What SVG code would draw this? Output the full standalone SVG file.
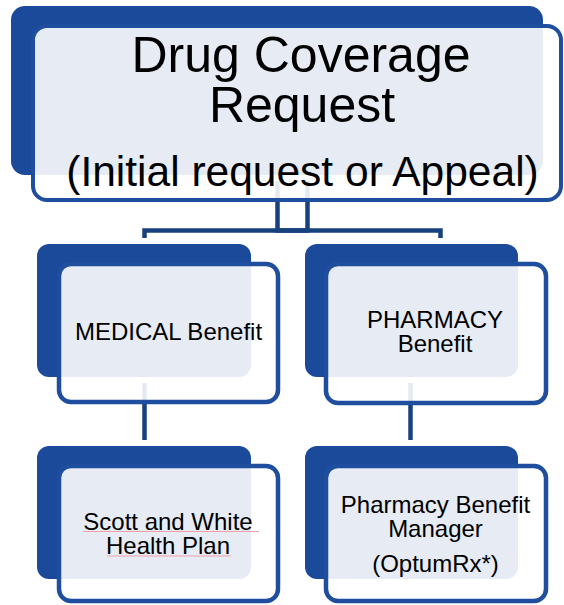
<svg xmlns="http://www.w3.org/2000/svg" width="564" height="605" viewBox="0 0 564 605">
<style>
.back{fill:#1B4A9B}
.front{fill:#FFFFFF;fill-opacity:0.89;stroke:#1F4E9F;stroke-width:4.5}
.conn{fill:none;stroke:#17407F;stroke-width:4.5}
.t{font-family:"Liberation Sans",Arial,sans-serif;fill:#000;text-anchor:middle}
.sp{stroke:#F2A0A8;stroke-width:1.2}
</style>
<rect width="564" height="605" fill="#FFFFFF"/>
<g id="connectors">
<path class="conn" d="M277.5,181 V230.5 H440.5 V238"/>
<path class="conn" d="M307.5,181 V230.5 H144.5 V238"/>
<path class="conn" d="M144.5,383 V440"/>
<path class="conn" d="M410.5,383 V440"/>
</g>
<g id="drug-coverage-request">
<rect class="back" x="11" y="6" width="532" height="169" rx="14"/>
<rect class="front" x="33" y="26" width="528" height="174" rx="14" style="stroke-width:4"/>
<text class="t" x="301" y="72" font-size="50">Drug Coverage</text>
<text class="t" x="302" y="122" font-size="50">Request</text>
<text class="t" x="302.5" y="186" font-size="42.5">(Initial request or Appeal)</text>
</g>
<g id="medical-benefit">
<rect class="back" x="37" y="244" width="214" height="133" rx="12"/>
<rect class="front" x="59" y="264" width="219" height="138" rx="12"/>
<text class="t" x="168.5" y="340" font-size="24">MEDICAL Benefit</text>
</g>
<g id="pharmacy-benefit">
<rect class="back" x="305" y="244" width="213" height="133" rx="12"/>
<rect class="front" x="326" y="264" width="220" height="139" rx="12"/>
<text class="t" x="435" y="328" font-size="24">PHARMACY</text>
<text class="t" x="435" y="352" font-size="24">Benefit</text>
</g>
<g id="scott-and-white">
<rect class="back" x="37" y="446" width="214" height="133" rx="12"/>
<rect class="front" x="59" y="466" width="219" height="135" rx="12"/>
<text class="t" x="168" y="530" font-size="24">Scott and White</text>
<text class="t" x="168" y="554" font-size="24">Health Plan</text>
<line class="sp" x1="83" y1="531.5" x2="259" y2="531.5"/>
<line class="sp" x1="107" y1="556" x2="231" y2="556"/>
</g>
<g id="pharmacy-benefit-manager">
<rect class="back" x="305" y="446" width="213" height="133" rx="12"/>
<rect class="front" x="326" y="466" width="220" height="135" rx="12"/>
<text class="t" x="435.5" y="513" font-size="24">Pharmacy Benefit</text>
<text class="t" x="435.5" y="537" font-size="24">Manager</text>
<text class="t" x="435.5" y="572" font-size="24">(OptumRx*)</text>
</g>
</svg>
